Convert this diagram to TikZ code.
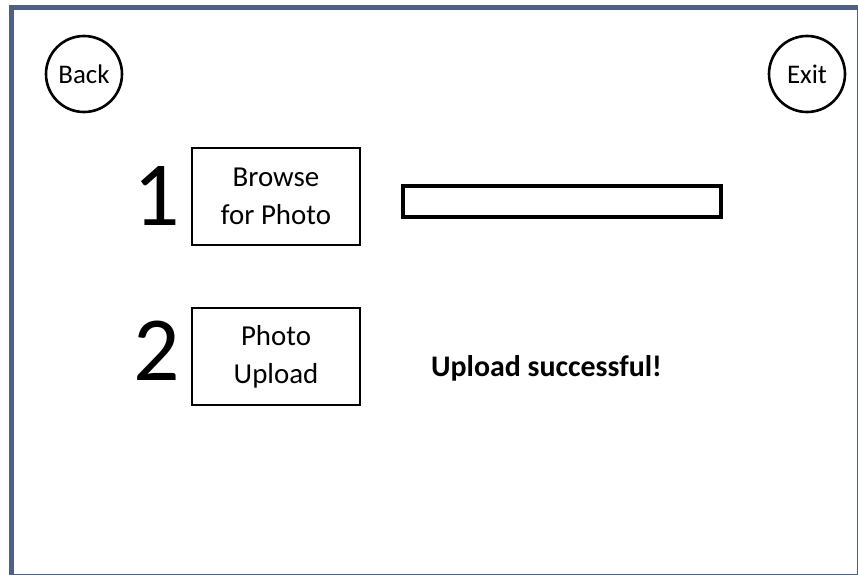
\documentclass[tikz,border=0pt]{standalone}
\usepackage{fontspec}
\setmainfont{Carlito}
\usetikzlibrary{positioning}
\definecolor{framecol}{RGB}{78,96,133}
\tikzset{
  navbtn/.style ={circle,draw=black,line width=2.6bp,minimum size=76bp,
                  inner sep=0pt,font=\fontsize{27}{30}\selectfont},
  stepbox/.style={rectangle,draw=black,line width=2.2bp,minimum width=168bp,
                  minimum height=97bp,align=center,inner sep=0pt,
                  font=\fontsize{29}{38}\selectfont},
}

\begin{document}
\begin{tikzpicture}[
  x=1bp, y=-1bp,
  numlab/.style ={font=\fontsize{92}{92}\selectfont,inner sep=0pt},
  field/.style  ={rectangle,draw=black,line width=3.8bp,minimum width=318bp,
                  minimum height=31bp,inner sep=0pt},
  msg/.style    ={font=\fontsize{30}{32}\selectfont\bfseries,inner sep=0pt},
]
\useasboundingbox (0,0) rectangle (858,575);
%% window frame
\draw[framecol,line width=5bp] (11,8) rectangle (859,576);
%% top buttons
\node[navbtn] (back) at ( 84,74) {Back};
\node[navbtn] (exit) at (807,74) {Exit};
%% step 1
\node[stepbox] (browse) at (276,196.5) {Browse\\for Photo};
\node[numlab,left=11bp of browse] (n1) {1};
\node[field] (path) at (562,201.5) {};
%% step 2
\node[stepbox] (upload) at (276,356.5) {Photo\\Upload};
\node[numlab,left=11bp of upload,yshift=6bp] (n2) {2};
\node[msg] (done) at (546.5,368) {Upload successful!};
\end{tikzpicture}
\end{document}
